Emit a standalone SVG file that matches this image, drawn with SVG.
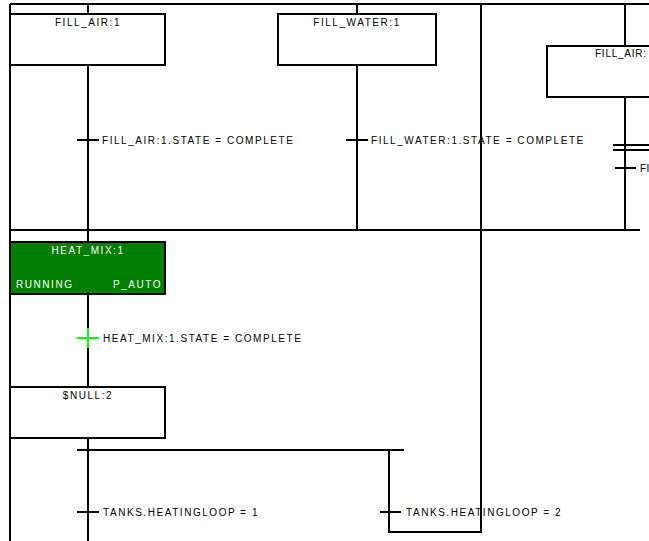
<svg xmlns="http://www.w3.org/2000/svg" width="649" height="541" viewBox="0 0 649 541">
<style>
  .ln { stroke: #000; stroke-width: 2; fill: none; }
  .box { fill: #fff; stroke: #000; stroke-width: 2; }
  .t { font-family: "Liberation Sans", Arial, sans-serif; font-size: 10px; letter-spacing: 1.55px; fill: #000; }
  .c { text-anchor: middle; }
  .w { fill: #fff; }
</style>
<rect width="649" height="541" fill="#fff"/>
<g id="connectors">
  <path class="ln" d="M10 4 H649"/>
  <path class="ln" d="M10 4 V541"/>
  <path class="ln" d="M10 230 H640"/>
  <path class="ln" d="M88 4 V14 M88 65 V242 M88 294 V328 M88 348 V387 M88 438 V541"/>
  <path class="ln" d="M77 140 H99"/>
  <path class="ln" d="M357 4 V14 M357 65 V230"/>
  <path class="ln" d="M346 140 H368"/>
  <path class="ln" d="M481 4 V532 H389 V450"/>
  <path class="ln" d="M625 4 V46 M625 97 V230"/>
  <path class="ln" d="M613 145 H649 M613 150 H649"/>
  <path class="ln" d="M615 168 H636"/>
  <path d="M88 328 V348 M77 338 H99" stroke="#00ff00" stroke-width="2" fill="none"/>
  <path class="ln" d="M77 450 H404"/>
  <path class="ln" d="M77 512 H99"/>
  <path class="ln" d="M380 512 H401"/>
</g>
<g id="fill_air_1">
  <rect class="box" x="10" y="14" width="155" height="51"/>
  <text class="t c" x="88" y="26">FILL_AIR:1</text>
</g>
<g id="fill_water_1">
  <rect class="box" x="278" y="14" width="158" height="51"/>
  <text class="t c" x="357" y="26">FILL_WATER:1</text>
</g>
<g id="fill_air_right">
  <rect class="box" x="547" y="46" width="160" height="51"/>
  <text class="t" x="595" y="57" style="letter-spacing:0" textLength="51" lengthAdjust="spacing">FILL_AIR:</text>
</g>
<g id="heat_mix_1">
  <rect x="10" y="242" width="155" height="52" fill="#007f00" stroke="#000" stroke-width="2"/>
  <text class="t c w" x="88" y="254">HEAT_MIX:1</text>
  <text class="t w" x="16" y="288">RUNNING</text>
  <text class="t w" x="113" y="288">P_AUTO</text>
</g>
<g id="null_2">
  <rect class="box" x="10" y="387" width="155" height="51"/>
  <text class="t c" x="88" y="399">$NULL:2</text>
</g>
<g id="labels">
  <text class="t" x="102" y="144">FILL_AIR:1.STATE = COMPLETE</text>
  <text class="t" x="371" y="144">FILL_WATER:1.STATE = COMPLETE</text>
  <text class="t" x="640" y="172" style="letter-spacing:0.5px">FI</text>
  <text class="t" x="103" y="342">HEAT_MIX:1.STATE = COMPLETE</text>
  <text class="t" x="103" y="516">TANKS.HEATINGLOOP = 1</text>
  <text class="t" x="406" y="516">TANKS.HEATINGLOOP = 2</text>
</g>
</svg>
